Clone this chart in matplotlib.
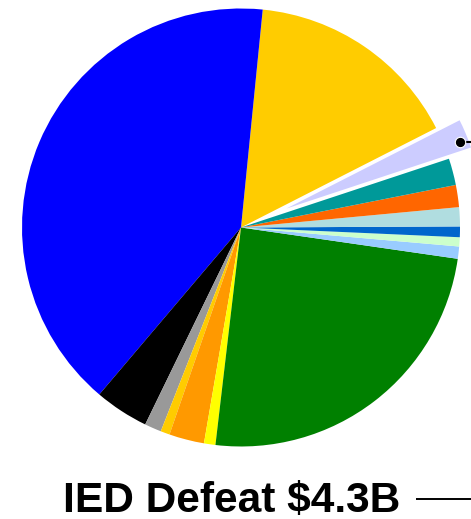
#!/usr/bin/env python3
# -*- coding: utf-8 -*-

##-Imports
import matplotlib
matplotlib.use('Agg')
import matplotlib.pyplot as plt


##-Data (in $B, counterclockwise from the IED Defeat slice)
labels = ['IED Defeat', 'Slice 2', 'Slice 3', 'Slice 4', 'Slice 5', 'Slice 6',
          'Slice 7', 'Slice 8', 'Slice 9', 'Slice 10', 'Slice 11', 'Slice 12',
          'Slice 13', 'Slice 14', 'Slice 15']
values = [4.3, 28.3, 71.8, 7.1, 2.2, 1.2, 4.6, 1.5, 43.7, 1.6, 1.2, 1.4, 2.5, 2.9, 3.5]
colors = ['#ccccff', '#ffcc00', '#0000ff', '#000000', '#999999', '#ffcc00',
          '#ff9900', '#ffff00', '#008000', '#99ccff', '#ccffcc', '#0066cc',
          '#b0dde0', '#ff6600', '#009999']
explode = [0.12] + [0] * (len(values) - 1)

title_text = 'IED Defeat $4.3B'


##-Plot
fig = plt.figure(figsize=(4.71, 5.19), dpi=100)
ax = fig.add_axes([0, 0, 1, 1])

wedges, _ = ax.pie(values, colors=colors, explode=explode, startangle=18.3,
                   counterclock=True, radius=1)

# white border round the pulled out slice
wedges[0].set_edgecolor('white')
wedges[0].set_linewidth(2.5)

# callout from the exploded slice
ax.plot([1.0, 1.2], [0.39, 0.39], color='black', lw=1.5, solid_capstyle='butt')
ax.plot([1.0], [0.39], 'o', color='black', markersize=7.5,
        markeredgecolor='white', markeredgewidth=0.8)

# label at the bottom
ax.text(-0.815, -1.2977, title_text, ha='left', va='baseline',
        fontsize=30.6, fontweight='bold', family=['Liberation Sans', 'DejaVu Sans'])
ax.plot([0.799, 1.2], [-1.241, -1.241], color='black', lw=1.4, solid_capstyle='butt')

ax.set_aspect('auto')
ax.set_xlim(-1.1005, 1.0502)
ax.set_ylim(-1.3311, 1.0388)
ax.axis('off')

plt.savefig('out.png', dpi=100)
